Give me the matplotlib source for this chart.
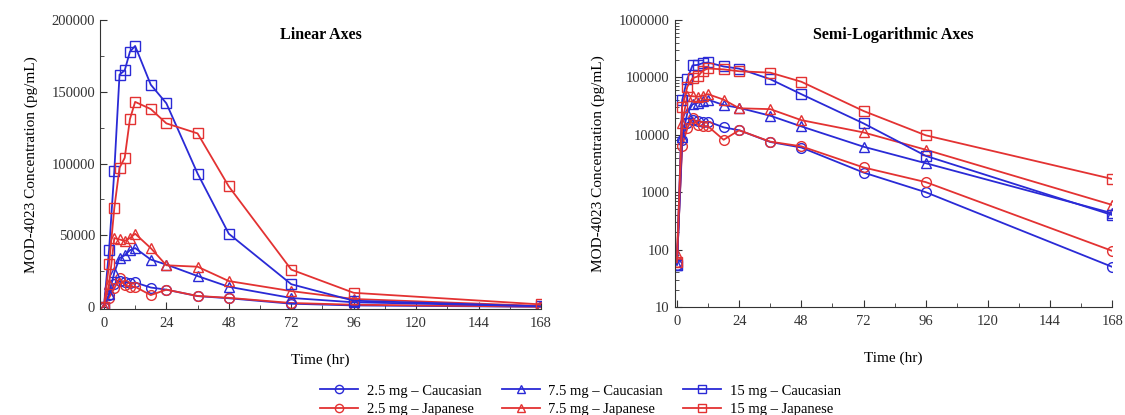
import numpy as np
import matplotlib.pyplot as plt
from matplotlib.ticker import MultipleLocator, LogLocator, NullFormatter, FixedLocator

plt.rcParams['font.family'] = ['Liberation Serif', 'DejaVu Serif']

# sampling times (hr)
time_hr = [0, 2, 4, 6, 8, 10, 12, 18, 24, 36, 48, 72, 96, 168]

# MOD-4023 concentrations (pg/mL)
conc_25_cau = [55, 8000, 16000, 18000, 17500, 16500, 17000, 13500, 12000, 7500, 6000, 2200, 1000, 50]
conc_25_jpn = [60, 6500, 13000, 20000, 15000, 14000, 14000, 8200, 12000, 7600, 6300, 2700, 1500, 95]
conc_75_cau = [55, 9000, 24000, 34000, 36000, 39500, 41000, 33000, 29500, 21500, 14000, 6200, 3200, 430]
conc_75_jpn = [85, 16000, 48000, 47000, 46000, 48000, 51000, 41000, 29000, 28000, 18000, 11000, 5500, 600]
conc_15_cau = [55, 40000, 95000, 162000, 165000, 178000, 182000, 155000, 142000, 93000, 51000, 15800, 4300, 400]
conc_15_jpn = [60, 30000, 69000, 97000, 104000, 131000, 143000, 138000, 128000, 121000, 84000, 26000, 9800, 1700]

series = [
    ("2.5 mg \u2013 Caucasian", conc_25_cau, "#2a2ad6", "o"),
    ("2.5 mg \u2013 Japanese", conc_25_jpn, "#e33232", "o"),
    ("7.5 mg \u2013 Caucasian", conc_75_cau, "#2a2ad6", "^"),
    ("7.5 mg \u2013 Japanese", conc_75_jpn, "#e33232", "^"),
    ("15 mg \u2013 Caucasian", conc_15_cau, "#2a2ad6", "s"),
    ("15 mg \u2013 Japanese", conc_15_jpn, "#e33232", "s"),
]

fig = plt.figure(figsize=(11.25, 4.15), dpi=100)
ax_lin = fig.add_axes([0.0889, 0.2554, 0.392, 0.696])
ax_log = fig.add_axes([0.5997, 0.2602, 0.389, 0.6916])


def draw_series(ax):
    handles = []
    for label, vals, color, marker in series:
        ms = 7.5 if marker == "s" else 7
        h, = ax.plot(time_hr, vals, color=color, marker=marker, markersize=ms,
                     markerfacecolor="none", markeredgecolor=color,
                     markeredgewidth=1.0, linewidth=1.3, label=label)
        handles.append(h)
    return handles


def style_axes(ax, title):
    ax.spines['top'].set_visible(False)
    ax.spines['right'].set_visible(False)
    ax.spines['left'].set_color('#333333')
    ax.spines['bottom'].set_color('#333333')
    ax.xaxis.set_major_locator(MultipleLocator(24))
    ax.xaxis.set_minor_locator(MultipleLocator(12))
    ax.tick_params(which='both', direction='in', labelsize=10.5, colors='#333333')
    ax.tick_params(axis='x', pad=6)
    ax.tick_params(which='major', length=5)
    ax.tick_params(which='minor', length=3)
    ax.set_xlabel("Time (hr)", fontsize=11, labelpad=17)
    ax.set_ylabel("MOD-4023 Concentration (pg/mL)", fontsize=11, labelpad=10)
    ax.text(0.5, 0.975, title, transform=ax.transAxes, ha='center', va='top',
            fontsize=11.5, fontweight='bold')


handles = draw_series(ax_lin)
ax_lin.set_xlim(-1.5, 168)
ax_lin.set_ylim(-1500, 200000)
ax_lin.yaxis.set_major_locator(MultipleLocator(50000))
ax_lin.yaxis.set_minor_locator(MultipleLocator(25000))
style_axes(ax_lin, "Linear Axes")

draw_series(ax_log)
ax_log.set_yscale('log')
ax_log.set_xlim(-0.9, 168)
ax_log.set_ylim(10, 1000000)
ax_log.yaxis.set_major_locator(FixedLocator([10, 100, 1000, 10000, 100000, 1000000]))
ax_log.set_yticklabels(["10", "100", "1000", "10000", "100000", "1000000"])
ax_log.yaxis.set_minor_locator(LogLocator(base=10, subs=np.arange(2, 10), numticks=20))
ax_log.yaxis.set_minor_formatter(NullFormatter())
style_axes(ax_log, "Semi-Logarithmic Axes")

leg = fig.legend(handles=handles, loc='center', bbox_to_anchor=(0.516, 0.036), ncol=3,
                 frameon=False, fontsize=10.5, handlelength=2.6, columnspacing=1.4,
                 labelspacing=0.35, handletextpad=0.6, markerscale=0.85)

fig.savefig("out.png", dpi=100)
